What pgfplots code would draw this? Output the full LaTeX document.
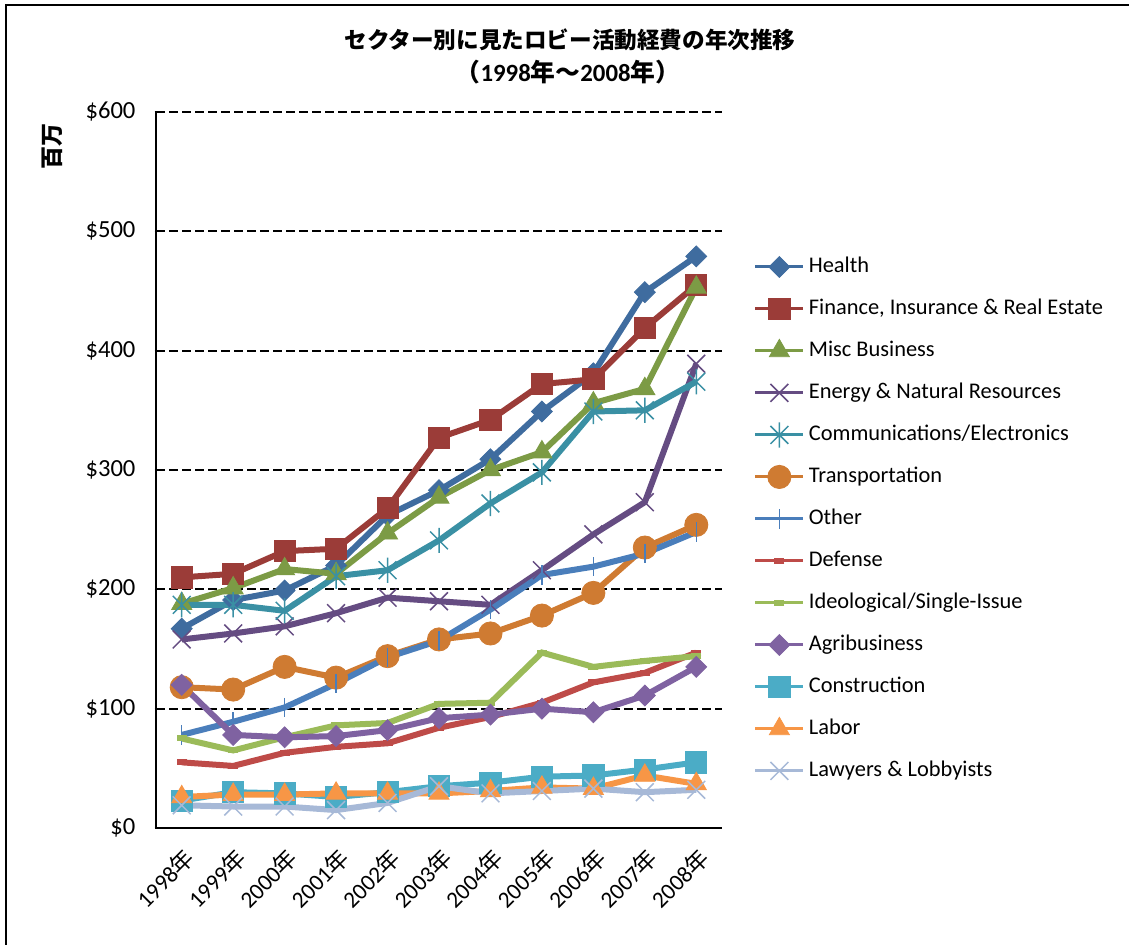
\documentclass[border=0pt]{standalone}
\usepackage{fontspec}
\setmainfont{Carlito}
\newfontfamily\cjk{Noto Sans CJK JP}
\usepackage{pgfplots}
\usepackage{pgfplotstable}
\pgfplotsset{compat=1.18}

\definecolor{cHealth}{HTML}{3F6C9F}
\definecolor{cFin}{HTML}{9B3C38}
\definecolor{cMisc}{HTML}{7C9B45}
\definecolor{cEnergy}{HTML}{654C82}
\definecolor{cComm}{HTML}{3A90A4}
\definecolor{cTrans}{HTML}{CF7B32}
\definecolor{cOther}{HTML}{4A7EBB}
\definecolor{cDef}{HTML}{BE4B48}
\definecolor{cIdeo}{HTML}{9BBB59}
\definecolor{cAgri}{HTML}{7F62A1}
\definecolor{cConstr}{HTML}{4BACC6}
\definecolor{cLabor}{HTML}{F79646}
\definecolor{cLaw}{HTML}{A7B9D7}

\pgfdeclareplotmark{xstar}{%
  \pgfpathmoveto{\pgfqpoint{-.7071\pgfplotmarksize}{-.7071\pgfplotmarksize}}%
  \pgfpathlineto{\pgfqpoint{.7071\pgfplotmarksize}{.7071\pgfplotmarksize}}%
  \pgfpathmoveto{\pgfqpoint{-.7071\pgfplotmarksize}{.7071\pgfplotmarksize}}%
  \pgfpathlineto{\pgfqpoint{.7071\pgfplotmarksize}{-.7071\pgfplotmarksize}}%
  \pgfpathmoveto{\pgfqpoint{0pt}{-\pgfplotmarksize}}%
  \pgfpathlineto{\pgfqpoint{0pt}{\pgfplotmarksize}}%
  \pgfusepathqstroke}

\pgfplotstableread{
x Health Finance Misc Energy Comm Trans Other Defense Ideo Agri Constr Labor Lawyers
0 167 210 188 158 187 118 78 55 75 120 23 26 19
1 191 213 201 163 187 116 89 52 65 78 30 28 18
2 199 232 217 169 182 135 101 63 76 76 29 28 18
3 220 234 213 180 211 126 121 68 86 77 26 29 15
4 262 268 247 193 216 144 143 71 88 82 30 29 21
5 283 327 277 190 241 158 157 84 104 92 35 29 35
6 309 342 300 187 272 163 183 93 105 95 38 31 29
7 349 372 315 216 298 178 212 105 147 100 43 34 31
8 381 376 356 246 349 197 219 122 135 97 44 33 33
9 449 419 368 273 350 235 230 130 140 111 49 44 30
10 479 455 453 389 374 254 248 147 144 135 55 37 32
}\datatable

\begin{document}
\begin{tikzpicture}
\path[use as bounding box] (0,0) rectangle (564.5pt,472.5pt);
\draw[line width=0.75pt] (3pt,0) -- (3pt,470pt) -- (564.5pt,470pt);
\node[font=\cjk\bfseries\fontsize{11.3}{13}\selectfont] at (285pt,452.5pt) {セクター別に見たロビー活動経費の年次推移};
\node[font=\fontsize{12.4}{14}\selectfont\bfseries] at (284pt,436.5pt) {{\cjk （}1998{\cjk 年～}2008{\cjk 年）}};
\node[rotate=90, font=\cjk\bfseries\fontsize{11.5}{13}\selectfont] at (26pt,399pt) {百万};
\begin{axis}[
  at={(78pt,58.5pt)}, anchor=south west,
  scale only axis, width=283pt, height=358pt,
  xmin=-0.5, xmax=10.5, ymin=0, ymax=600,
  axis x line=bottom, axis y line=left,
  axis line style={line width=1pt, -},
  xtick={0,...,10},
  xticklabels={1998{\cjk 年},1999{\cjk 年},2000{\cjk 年},2001{\cjk 年},2002{\cjk 年},2003{\cjk 年},2004{\cjk 年},2005{\cjk 年},2006{\cjk 年},2007{\cjk 年},2008{\cjk 年}},
  x tick label style={rotate=45, anchor=north east, font=\fontsize{11.6}{13}\selectfont, xshift=-2pt, yshift=-2.5pt},
  major x tick style={draw=none},
  extra x ticks={-0.5,0.5,1.5,2.5,3.5,4.5,5.5,6.5,7.5,8.5,9.5,10.5},
  extra x tick labels={},
  extra x tick style={major tick length=3pt, tick align=outside, tick style={black, line width=0.75pt}},
  ytick={0,100,...,600},
  yticklabel={\$\pgfmathprintnumber[assume math mode=true]{\tick}},
  y tick label style={font=\fontsize{12.3}{14}\selectfont, color=black, xshift=-6pt},
  y tick style={black, line width=0.75pt},
  major tick length=1.5pt,
  ymajorgrids, grid style={black, line width=1pt, dash pattern=on 4.5pt off 2pt},
  every axis plot/.append style={line width=3pt},
  legend style={at={(1.045,0.810)}, anchor=north west, draw=none, fill=none,
    font=\fontsize{11.2}{13}\selectfont, row sep=6.5pt,
    cells={anchor=west}, nodes={text height=8pt, text depth=2.5pt}},
  legend image code/.code={\draw[line width=1.5pt, mark repeat=2, mark phase=2] plot coordinates {(0pt,0pt) (12pt,0pt) (24pt,0pt)};},
]
\addplot[cHealth, mark=square*, mark options={solid, rotate=45, line width=0.4pt, fill=cHealth}, mark size=3.7pt] table[x=x,y=Health]{\datatable};
\addlegendentry{Health}
\addplot[cFin, mark=square*, mark options={solid, line width=0.4pt, fill=cFin}, mark size=5.3pt] table[x=x,y=Finance]{\datatable};
\addlegendentry{Finance, Insurance \& Real Estate}
\addplot[cMisc, mark=triangle*, mark options={solid, line width=0.4pt, fill=cMisc}, mark size=5.8pt] table[x=x,y=Misc]{\datatable};
\addlegendentry{Misc Business}
\addplot[cEnergy, mark=x, mark options={solid, line width=0.75pt}, mark size=6.3pt] table[x=x,y=Energy]{\datatable};
\addlegendentry{Energy \& Natural Resources}
\addplot[cComm, mark=xstar, mark options={solid, line width=0.75pt}, mark size=6.3pt] table[x=x,y=Comm]{\datatable};
\addlegendentry{Communications/Electronics}
\addplot[cTrans, mark=*, mark options={solid, line width=0.4pt, fill=cTrans}, mark size=5.8pt] table[x=x,y=Trans]{\datatable};
\addlegendentry{Transportation}
\addplot[cOther, mark=|, mark options={solid, line width=0.75pt}, mark size=4.8pt] table[x=x,y=Other]{\datatable};
\addlegendentry{Other}
\addplot[cDef, mark=-, mark options={solid, line width=3pt}, mark size=2.5pt] table[x=x,y=Defense]{\datatable};
\addlegendentry{Defense}
\addplot[cIdeo, mark=-, mark options={solid, line width=3pt}, mark size=2.5pt] table[x=x,y=Ideo]{\datatable};
\addlegendentry{Ideological/Single-Issue}
\addplot[cAgri, mark=square*, mark options={solid, rotate=45, line width=0.4pt, fill=cAgri}, mark size=3.7pt] table[x=x,y=Agri]{\datatable};
\addlegendentry{Agribusiness}
\addplot[cConstr, mark=square*, mark options={solid, line width=0.4pt, fill=cConstr}, mark size=5.3pt] table[x=x,y=Constr]{\datatable};
\addlegendentry{Construction}
\addplot[cLabor, mark=triangle*, mark options={solid, line width=0.4pt, fill=cLabor}, mark size=5.8pt] table[x=x,y=Labor]{\datatable};
\addlegendentry{Labor}
\addplot[cLaw, mark=x, mark options={solid, line width=0.75pt}, mark size=6.3pt] table[x=x,y=Lawyers]{\datatable};
\addlegendentry{Lawyers \& Lobbyists}
\end{axis}
\end{tikzpicture}
\end{document}
